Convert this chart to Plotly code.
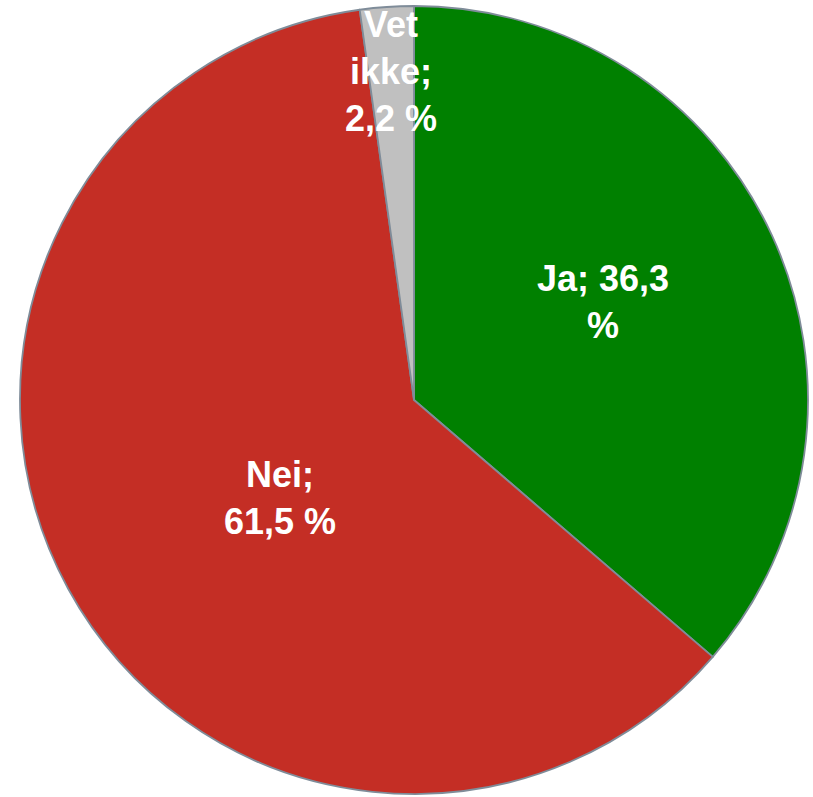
import math
import plotly.graph_objects as go

# Data
categories = ["Ja", "Nei", "Vet ikke"]
values = [36.3, 61.5, 2.2]
value_labels = ["36,3 %", "61,5 %", "2,2 %"]
label_texts = ["Ja; 36,3<br>%", "Nei;<br>61,5 %", "Vet<br>ikke;<br>2,2 %"]
colors = ["#008000", "#C42E25", "#C0C0C0"]

W, H = 813, 797
CX, CY, R = 414, 400, 394  # pixel geometry of the pie

# label placement: (radial fraction, angle tweak in degrees)
label_place = [(0.54, -2.7), (0.42, -7.5), (0.835, 0.0)]

fig = go.Figure(go.Pie(
    labels=categories,
    values=values,
    sort=False,
    direction="clockwise",
    rotation=0,
    marker=dict(colors=colors, line=dict(color="#7F8C99", width=1.8)),
    textinfo="none",
    hoverinfo="label+percent",
    domain=dict(x=[(CX - R) / W, (CX + R) / W],
                y=[(H - CY - R) / H, (H - CY + R) / H]),
    showlegend=False,
))

total = sum(values)
cum = 0.0
annotations = []
for i, v in enumerate(values):
    mid = (cum + v / 2) / total * 360.0
    cum += v
    frac, tweak = label_place[i]
    ang = math.radians(mid + tweak)
    px = CX + frac * R * math.sin(ang)
    py = CY - frac * R * math.cos(ang)
    annotations.append(dict(
        x=px / W, y=(H - py) / H, xref="paper", yref="paper",
        text="<b>" + label_texts[i].replace("<br>", "</b><br><b>") + "</b>",
        showarrow=False,
        font=dict(family="Liberation Sans, Arial, sans-serif", size=36, color="white"),
        xanchor="center", yanchor="middle", align="center",
    ))

fig.update_layout(
    width=W, height=H,
    margin=dict(l=0, r=0, t=0, b=0),
    paper_bgcolor="white",
    plot_bgcolor="white",
    annotations=annotations,
)

fig.write_html("out.html",
               config={"displayModeBar": False},
               post_script="document.body.style.margin='0';document.body.style.overflow='hidden';")
